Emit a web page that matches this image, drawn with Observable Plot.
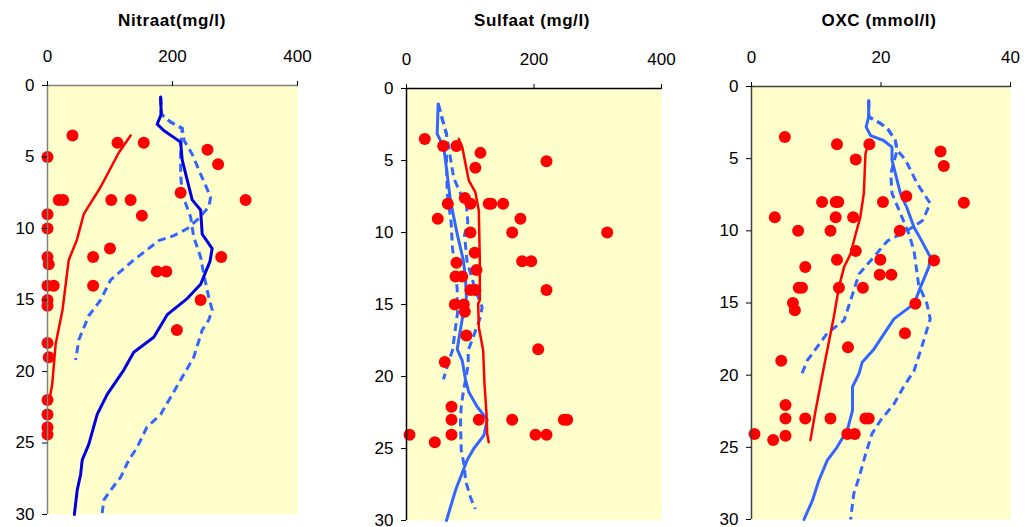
<!DOCTYPE html>
<html>
<head>
<meta charset="utf-8">
<script src="https://cdn.jsdelivr.net/npm/d3@7"></script>
<script src="https://cdn.jsdelivr.net/npm/@observablehq/plot@0.6"></script>
<style>
  html, body { margin: 0; padding: 0; background: #fff; }
  #wrap { position: relative; width: 1036px; height: 527px; overflow: hidden; font-family: "Liberation Sans", Arial, sans-serif; }
  .panel { position: absolute; top: 0; }
  .title { position: absolute; top: 11px; transform: translateX(-50%); font-weight: bold; font-size: 17px; letter-spacing: 0.6px; white-space: nowrap; color: #000; }
</style>
</head>
<body>
<div id="wrap"></div>
<script>
// ---------- Data (value, depth) ----------
const depthTicks = [0, 5, 10, 15, 20, 25, 30];
const titles = ["Nitraat(mg/l)", "Sulfaat (mg/l)", "OXC (mmol/l)"];

// Nitraat
const nitPoints = [[40,3.5],[112,4.0],[154,4.0],[0,5.0],[256,4.5],[273,5.5],[213,7.5],[18,8],[25,8],[102,8],[133,8],[317,8],[0,9],[151,9.1],[0,10],[100,11.4],[73,12],[0,12],[278,12],[2,12.5],[175,13],[190,13],[0,14],[10,14],[73,14],[245,15],[0,15],[0,15.4],[207,17.1],[0,18],[2,19],[0,22],[0,23],[0,23.9],[0,24.4]];
const nitRed = [[133,3.5],[114,4.7],[85,7.1],[58,9.0],[47,10.8],[34,12.2],[24,15.7],[13,18.1],[7.5,20.9],[3,22.0]];
const nitSolid = [[181,0.8],[182,2.0],[175.5,2.7],[186,3.15],[213,3.96],[215.5,5.2],[231.5,8.0],[245,8.7],[247.5,10.4],[263.5,11.4],[260,12.3],[245,13.9],[223.5,14.9],[192,16.0],[170,17.6],[138,18.65],[122,19.9],[95.5,21.6],[79.5,23.0],[66,25.1],[55.5,26.2],[53,27.2],[47.5,28.3],[43,30]];
const nitDashA = [[181,0.8],[182,2.0],[197,2.56],[215.5,3.0],[218.7,3.85],[231.5,4.8],[245,6.2],[261,7.8],[258,8.5],[239.5,9.4],[224,10.0],[202,10.5],[178,10.85],[159,11.5],[138,12.2],[122,12.8],[101,13.6],[85,15.0],[66,16.1],[50,17.8],[45,19.2]];
const nitDashB = [[181,0.8],[182,2.0],[197,2.56],[215.5,3.0],[213,4.3],[213,6.2],[215.5,7.6],[229,9.2],[234,10.6],[245,12.0],[250,13.2],[258,14.8],[263.5,15.7],[258,16.4],[247.5,17.1],[234,19.0],[215.5,20.4],[197,21.8],[181,23.0],[159,23.9],[143.5,25.3],[130,26.2],[117,27.4],[101,28.3],[90,29.0],[87.5,29.9]];

// Sulfaat
const sulPoints = [[28.7,3.5],[57.5,4.0],[78.4,4.0],[116,4.47],[219.6,5.05],[108,5.5],[91.5,7.6],[100.4,8.0],[64.8,8.0],[129,8.0],[133,8.0],[151.6,8.0],[49,9.05],[178.8,9.05],[100.4,10.0],[165.8,10.0],[314.8,10.0],[107,11.4],[181.4,12.0],[195.6,12.0],[78.4,12.1],[109.8,12.6],[76.9,13.05],[87.4,13.05],[100.4,14.0],[108,14.0],[219.6,14.0],[75.8,15.0],[89.9,15.0],[91.5,15.5],[94,17.15],[206.6,18.1],[60,19.0],[70.6,22.1],[70.6,23.0],[113.5,23.0],[165.8,23.0],[246.8,23.0],[252,23.0],[4.7,24.05],[70.6,24.05],[202.3,24.05],[219.6,24.05],[44.4,24.56]];
const sulRed = [[82,3.5],[87.4,4.07],[97.8,6.4],[108,7.2],[113.5,8.5],[115,12.0],[115,14.7],[112.4,14.95],[113.5,16.6],[120.3,18.2],[122.3,20.5],[125.5,22.6],[126.6,24.0],[129,24.56]];
const sulSolid = [[49.7,1.07],[48.1,3.15],[58.5,4.07],[69,7.8],[79.5,10.1],[89,11.9],[92.5,13.1],[94,14.5],[87.4,16.0],[79.5,18.1],[87.4,18.9],[92.5,20.2],[97.8,21.1],[110.9,22.1],[126.6,23.0],[121.3,24.1],[105.6,25.0],[95.2,25.8],[76.9,27.9],[62.7,30.0]];
const sulDashA = [[49.7,1.07],[56,2.1],[62.7,3.15],[62.7,5.2],[64,7.3],[70,9.3],[72,11],[79.5,13.9],[80,15.6],[72,18.2],[66,19.0],[58,20.2]];
const sulDashB = [[49.7,1.07],[56,2.1],[62.7,3.15],[74,6.2],[84.7,7.3],[94,8.1],[96.2,9.3],[91,10.2],[95,12],[108,14],[118.7,15.2],[115,16.0],[96.8,18.2],[96.8,19.2],[89,21.1],[85.8,22.1],[84.7,23.2],[85.8,25.1],[91,26.3],[92.5,27.2],[100.4,28.4],[108,29.2]];

// OXC
const oxcPoints = [[5.15,3.5],[13.2,4.0],[18.2,4.0],[29.2,4.5],[29.7,5.5],[16.1,5.06],[23.9,7.6],[10.9,8.0],[13.0,8.0],[13.4,8.0],[20.3,8.0],[32.8,8.05],[3.6,9.06],[13.0,9.06],[15.7,9.06],[7.2,10.0],[12.2,10.0],[22.9,10.0],[16.1,11.4],[13.2,12.0],[19.9,12.0],[28.2,12.06],[8.3,12.5],[19.8,13.05],[21.6,13.05],[7.3,13.95],[7.8,13.95],[13.5,13.95],[17.2,13.95],[25.3,15.06],[6.4,15.0],[6.7,15.5],[23.7,17.1],[14.9,18.07],[4.6,19.0],[5.25,22.06],[5.25,23.0],[8.3,23.0],[12.2,23.0],[17.6,23.0],[18.1,23.0],[0.46,24.07],[5.25,24.2],[14.8,24.07],[15.95,24.07],[3.35,24.5]];
const oxcRed = [[18.2,3.74],[17.6,4.66],[17.35,7.4],[16.8,9.06],[16.1,10.2],[15.3,11.6],[14.3,12.5],[13.5,13.9],[12.7,16.0],[11.9,17.8],[10.9,20.1],[9.9,22.45],[9.1,24.5]];
const oxcSolid = [[18.1,0.97],[18.1,2.1],[17.7,2.8],[18.4,3.4],[20.4,3.74],[21.7,4.2],[21.7,5.1],[23.0,7.4],[24.0,8.4],[25.1,9.75],[25.8,10.3],[27.6,11.8],[27.4,12.5],[26.1,13.9],[25.1,15.06],[22.0,16.1],[18.9,18.2],[17.1,19.1],[16.6,19.9],[15.6,20.8],[15.6,22.45],[14.8,23.8],[13.2,25.0],[11.7,25.9],[10.4,27.3],[9.4,28.7],[8.1,30.0]];
const oxcDashA = [[18.1,0.97],[18.1,2.1],[19.7,2.5],[21.0,2.9],[22.2,3.74],[22.5,4.4],[23.8,5.1],[25.6,6.74],[27.6,8.1],[26.4,9.3],[24.0,10.0],[21.0,10.7],[18.9,11.8],[16.6,13.0],[15.6,14.4],[14.3,16.2],[11.7,17.1],[8.6,19.0],[7.6,20.1]];
const oxcDashB = [[18.1,0.97],[18.1,2.1],[19.7,2.5],[21.0,2.9],[22.2,3.74],[22.5,4.4],[21.5,6.05],[21.7,7.4],[23.0,8.8],[24.3,10.2],[25.1,11.4],[25.8,13.7],[27.1,15.06],[27.6,16.1],[26.6,17.6],[25.1,19.7],[23.5,20.8],[22.0,22.0],[19.9,23.15],[18.6,24.07],[17.6,25.5],[16.6,27.1],[15.8,28.2],[15.3,30.0]];

// ---------- Drawing ----------
const X = d => d[0], Y = d => d[1];
const wrap = document.getElementById("wrap");

function panel(cfg) {
  const chart = Plot.plot({
    width: cfg.width, height: 527,
    marginLeft: cfg.ml, marginRight: cfg.mr, marginTop: cfg.mt, marginBottom: cfg.mb,
    style: {fontFamily: "'Liberation Sans', Arial, sans-serif", fontSize: "17px", color: "#000", background: "transparent", overflow: "visible"},
    x: {domain: cfg.xDomain},
    y: {domain: [0, 30], reverse: true},
    marks: [
      Plot.frame({fill: "#FFFFCC", stroke: "none"}),
      Plot.line(cfg.dashA, {x: X, y: Y, stroke: "#3366FF", strokeWidth: 3, strokeDasharray: "8,5", strokeLinecap: "butt"}),
      Plot.line(cfg.dashB, {x: X, y: Y, stroke: "#3366FF", strokeWidth: 3, strokeDasharray: "8,5", strokeLinecap: "butt"}),
      Plot.line(cfg.solid, {x: X, y: Y, stroke: cfg.solidColor, strokeWidth: 3}),
      Plot.line(cfg.red, {x: X, y: Y, stroke: "#FF0000", strokeWidth: 2.5}),
      Plot.dot(cfg.pts, {x: X, y: Y, r: 6, fill: "#FF0000", stroke: "none"}),
      Plot.ruleY([0], {stroke: cfg.axisColor, strokeWidth: 1.5}),
      Plot.ruleX([cfg.xDomain[0]], {stroke: cfg.axisColor, strokeWidth: 1.5}),
      Plot.axisX({anchor: "top", ticks: cfg.xTicks, tickSize: 5, tickPadding: 19, label: null, stroke: "#000"}),
      Plot.axisY({anchor: "left", ticks: depthTicks, tickSize: 5, tickPadding: 8, label: null, stroke: "#000"})
    ]
  });
  chart.classList.add("panel");
  chart.style.left = cfg.left + "px";
  wrap.appendChild(chart);
  const t = document.createElement("div");
  t.className = "title";
  t.textContent = cfg.title;
  t.style.left = cfg.titleX + "px";
  wrap.appendChild(t);
}

panel({left: 0, width: 340, ml: 47, mr: 43, mt: 85, mb: 13, xDomain: [0, 400], xTicks: [0, 200, 400],
  axisColor: "#808080", pts: nitPoints, red: nitRed, solid: nitSolid, solidColor: "#0000E0",
  dashA: nitDashA, dashB: nitDashB, title: titles[0], titleX: 172});
panel({left: 340, width: 340, ml: 66, mr: 19, mt: 88, mb: 7, xDomain: [0, 400], xTicks: [0, 200, 400],
  axisColor: "#000000", pts: sulPoints, red: sulRed, solid: sulSolid, solidColor: "#3366FF",
  dashA: sulDashA, dashB: sulDashB, title: titles[1], titleX: 532});
panel({left: 700, width: 336, ml: 51, mr: 26, mt: 86, mb: 8, xDomain: [0, 40], xTicks: [0, 20, 40],
  axisColor: "#404040", pts: oxcPoints, red: oxcRed, solid: oxcSolid, solidColor: "#3366FF",
  dashA: oxcDashA, dashB: oxcDashB, title: titles[2], titleX: 879});
</script>
</body>
</html>
